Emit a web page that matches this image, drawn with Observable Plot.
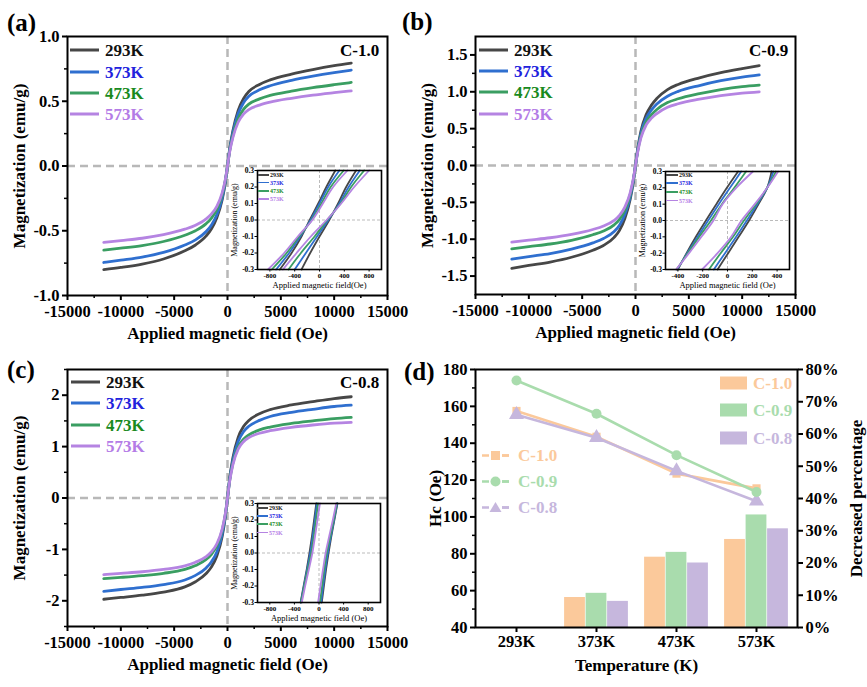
<!DOCTYPE html>
<html>
<head>
<meta charset="utf-8">
<script src="https://cdn.jsdelivr.net/npm/d3@7"></script>
<script src="https://cdn.jsdelivr.net/npm/@observablehq/plot@0.6"></script>
<style>
  body { margin: 0; background: #fff; }
  #fig { position: relative; width: 867px; height: 687px; background: #fff; overflow: hidden;
         font-family: "Liberation Serif", "DejaVu Serif", "Noto Serif", serif; }
  #fig svg { position: absolute; overflow: visible; }
  .lbl { position: absolute; font-weight: bold; white-space: nowrap; line-height: 1; }
  .leg { position: absolute; display: flex; align-items: center; transform: translateY(-50%);
         font-weight: bold; white-space: nowrap; line-height: 1; }
</style>
</head>
<body>
<div id="fig"></div>
<script>
// ---------------- data ----------------
const temps = ["293K", "373K", "473K", "573K"];
const fieldOe = [-11600, -10000, -8000, -6000, -4000, -3000, -2000, -1500, -1000, -500, -200, 0,
                 200, 500, 1000, 1500, 2000, 3000, 4000, 6000, 8000, 10000, 11600];

// panel (a) C-1.0 magnetization (emu/g) at fieldOe
const mA293 = [-0.80, -0.783, -0.757, -0.718, -0.655, -0.61, -0.54, -0.485, -0.40, -0.26, -0.125, 0,
               0.13, 0.27, 0.43, 0.52, 0.575, 0.63, 0.665, 0.71, 0.745, 0.775, 0.795];
const mA373 = [-0.745, -0.727, -0.703, -0.667, -0.610, -0.570, -0.506, -0.455, -0.377, -0.246, -0.118, 0,
               0.123, 0.255, 0.405, 0.488, 0.538, 0.588, 0.620, 0.662, 0.694, 0.721, 0.74];
const mA473 = [-0.65, -0.635, -0.614, -0.583, -0.535, -0.50, -0.445, -0.402, -0.336, -0.222, -0.108, 0,
               0.113, 0.232, 0.365, 0.437, 0.478, 0.518, 0.545, 0.578, 0.605, 0.628, 0.645];
const mA573 = [-0.59, -0.576, -0.558, -0.530, -0.488, -0.457, -0.408, -0.370, -0.312, -0.208, -0.102, 0,
               0.107, 0.218, 0.338, 0.400, 0.436, 0.470, 0.493, 0.523, 0.547, 0.566, 0.58];
// panel (b) C-0.9
const mB293 = [-1.395, -1.355, -1.31, -1.245, -1.15, -1.085, -0.975, -0.88, -0.72, -0.46, -0.22, 0,
               0.22, 0.46, 0.69, 0.82, 0.91, 1.03, 1.10, 1.19, 1.26, 1.315, 1.355];
const mB373 = [-1.27, -1.235, -1.195, -1.135, -1.05, -0.99, -0.895, -0.81, -0.665, -0.43, -0.205, 0,
               0.205, 0.43, 0.64, 0.755, 0.835, 0.94, 1.005, 1.085, 1.15, 1.20, 1.23];
const mB473 = [-1.13, -1.10, -1.065, -1.015, -0.94, -0.888, -0.805, -0.73, -0.605, -0.395, -0.19, 0,
               0.19, 0.395, 0.59, 0.69, 0.76, 0.853, 0.905, 0.975, 1.03, 1.07, 1.09];
const mB573 = [-1.04, -1.013, -0.98, -0.935, -0.868, -0.82, -0.745, -0.678, -0.565, -0.37, -0.178, 0,
               0.178, 0.37, 0.55, 0.643, 0.705, 0.79, 0.838, 0.90, 0.948, 0.982, 1.00];
// panel (c) C-0.8
const mC293 = [-1.97, -1.935, -1.89, -1.83, -1.73, -1.63, -1.47, -1.34, -1.13, -0.75, -0.36, 0,
               0.38, 0.78, 1.18, 1.39, 1.51, 1.64, 1.72, 1.81, 1.875, 1.935, 1.97];
const mC373 = [-1.815, -1.78, -1.74, -1.685, -1.595, -1.505, -1.36, -1.24, -1.05, -0.70, -0.34, 0,
               0.355, 0.73, 1.10, 1.29, 1.395, 1.51, 1.585, 1.665, 1.725, 1.78, 1.805];
const mC473 = [-1.57, -1.545, -1.51, -1.465, -1.39, -1.315, -1.195, -1.095, -0.93, -0.63, -0.31, 0,
               0.33, 0.67, 0.99, 1.145, 1.23, 1.325, 1.38, 1.45, 1.50, 1.545, 1.57];
const mC573 = [-1.49, -1.466, -1.435, -1.39, -1.32, -1.25, -1.14, -1.045, -0.89, -0.605, -0.30, 0,
               0.32, 0.645, 0.95, 1.095, 1.175, 1.26, 1.31, 1.375, 1.42, 1.455, 1.47];

// insets: field (Oe) of each loop branch at these magnetization levels
const loopM = [-0.3, -0.2, -0.1, 0, 0.1, 0.2, 0.3];
const aDesc293 = [-640, -450, -290, -158, -20, 110, 255];
const aAsc293  = [-290, -150, 0, 158, 300, 430, 590];
const aDesc373 = [-700, -490, -310, -143, 0, 140, 320];
const aAsc373  = [-400, -220, -40, 143, 320, 470, 650];
const aDesc473 = [-770, -530, -330, -124, 30, 180, 390];
const aAsc473  = [-500, -300, -80, 124, 340, 510, 720];
const aDesc573 = [-830, -570, -350, -115, 55, 220, 450];
const aAsc573  = [-590, -370, -140, 115, 350, 560, 800];

const bDesc293 = [-400, -330, -255, -174, -90, -5, 85];
const bAsc293  = [-80, 5, 90, 174, 250, 320, 355];
const bDesc373 = [-405, -325, -240, -156, -70, 20, 110];
const bAsc373  = [-110, -20, 70, 156, 240, 320, 370];
const bDesc473 = [-410, -320, -228, -133, -45, 55, 150];
const bAsc473  = [-150, -55, 45, 133, 230, 320, 390];
const bDesc573 = [-415, -310, -210, -113, -40, 70, 205];
const bAsc573  = [-205, -80, 30, 113, 220, 320, 408];

const cDesc293 = [-300, -250, -200, -155, -115, -80, -45];
const cAsc293  = [45, 80, 115, 155, 200, 250, 300];
const cDesc373 = [-295, -245, -193, -143, -103, -68, -35];
const cAsc373  = [35, 68, 103, 143, 193, 245, 295];
const cDesc473 = [-290, -238, -182, -125, -85, -50, -15];
const cAsc473  = [15, 50, 85, 125, 182, 238, 290];
const cDesc573 = [-280, -225, -165, -108, -65, -25, 15];
const cAsc573  = [-15, 25, 65, 108, 165, 225, 280];

// panel (d)
const samples = ["C-1.0", "C-0.9", "C-0.8"];
const hcC10 = [157.5, 143.5, 123.5, 115.5];
const hcC09 = [174, 156, 133.5, 113.5];
const hcC08 = [155.5, 143, 125, 108.5];
const decC10 = [0, 9.3, 21.8, 27.3];
const decC09 = [0, 10.6, 23.3, 34.9];
const decC08 = [0, 8.1, 20.0, 30.6];
const hcTicks = [40, 60, 80, 100, 120, 140, 160, 180];
const pctTicks = [0, 10, 20, 30, 40, 50, 60, 70, 80];

// ---------------- styles ----------------
const lineColors = ["#474747", "#2f6fcf", "#3a9e62", "#b584e2"];
const textColors = ["#111111", "#2222dd", "#198a1e", "#b47ce6"];
const dColors = ["#fbc99b", "#a9dcad", "#c6b7dd"];
const FONT = "'Liberation Serif', 'DejaVu Serif', 'Noto Serif', serif";
const TICK = 16.5, TITLE = 17;
const fig = document.getElementById("fig");

function place(svg, left, top) {
  svg.style.left = left + "px";
  svg.style.top = top + "px";
  fig.appendChild(svg);
}
function label(text, left, top, size, extra = {}) {
  const d = document.createElement("div");
  d.className = "lbl";
  d.textContent = text;
  d.style.left = left + "px";
  d.style.top = top + "px";
  d.style.fontSize = size + "px";
  Object.assign(d.style, extra);
  fig.appendChild(d);
}
function lineLegend(x, y, len, lw, color, tcolor, text, size, gap) {
  const d = document.createElement("div");
  d.className = "leg";
  d.style.left = x + "px";
  d.style.top = y + "px";
  d.style.fontSize = size + "px";
  d.style.color = tcolor;
  const s = document.createElement("span");
  s.style.cssText = `display:inline-block;width:${len}px;height:${lw}px;background:${color};margin-right:${gap}px`;
  d.appendChild(s);
  d.appendChild(document.createTextNode(text));
  fig.appendChild(d);
}

function range(a, b, step) { const r = []; for (let v = a; v <= b + 1e-9; v += step) r.push(+v.toFixed(4)); return r; }

function hystPanel({curves, yDomain, yMajor, yMinor, yFmt, width, height, ml, mr, mt, mb}) {
  const data = [];
  temps.forEach((t, k) => fieldOe.forEach((h, i) => data.push({T: t, H: h, M: curves[k][i]})));
  const xMajor = range(-15000, 15000, 5000);
  const xMinor = range(-12500, 12500, 5000);
  return Plot.plot({
    width, height, marginLeft: ml, marginRight: mr, marginTop: mt, marginBottom: mb,
    style: {fontFamily: FONT, background: "transparent", overflow: "visible", color: "black"},
    x: {domain: [-15000, 15000]},
    y: {domain: yDomain},
    color: {domain: temps, range: lineColors},
    marks: [
      Plot.ruleY([0], {stroke: "#b8b8b8", strokeWidth: 2.5, strokeDasharray: "8,5"}),
      Plot.ruleX([0], {stroke: "#b8b8b8", strokeWidth: 2.5, strokeDasharray: "8,5"}),
      Plot.line(data, {x: "H", y: "M", z: "T", stroke: "T", strokeWidth: 2.8, curve: "monotone-x"}),
      Plot.frame({stroke: "black", strokeWidth: 2}),
      Plot.axisX({ticks: xMajor, tickSize: 5, tickPadding: 5, strokeWidth: 2, label: null,
                  tickFormat: d => String(d), fontSize: TICK, fontWeight: "bold"}),
      Plot.axisX({ticks: xMinor, tickSize: 3, strokeWidth: 1.5, label: null, tickFormat: () => ""}),
      Plot.axisY({ticks: yMajor, tickSize: 5, tickPadding: 3, strokeWidth: 2, label: null,
                  tickFormat: yFmt, fontSize: TICK, fontWeight: "bold"}),
      Plot.axisY({ticks: yMinor, tickSize: 3, strokeWidth: 1.5, label: null, tickFormat: () => ""}),
      Plot.text(["Applied magnetic field (Oe)"], {frameAnchor: "bottom", dy: 43, fontSize: TITLE,
                  fontWeight: "bold", fill: "black", textAnchor: "middle"}),
      Plot.text(["Magnetization (emu/g)"], {frameAnchor: "left", rotate: -90, dx: -48, fontSize: TITLE,
                  fontWeight: "bold", fill: "black", textAnchor: "middle"})
    ]
  });
}

function insetPanel({desc, asc, xDomain, xTicks, width, height, ml, mr, mt, mb, xlab, dyLab}) {
  const data = [];
  temps.forEach((t, k) => {
    loopM.forEach((m, i) => data.push({T: t, B: t + "d", H: desc[k][i], M: m}));
    loopM.forEach((m, i) => data.push({T: t, B: t + "a", H: asc[k][i], M: m}));
  });
  return Plot.plot({
    width, height, marginLeft: ml, marginRight: mr, marginTop: mt, marginBottom: mb,
    style: {fontFamily: FONT, background: "transparent", overflow: "visible", color: "black"},
    x: {domain: xDomain},
    y: {domain: [-0.3, 0.3]},
    color: {domain: temps, range: lineColors},
    marks: [
      Plot.frame({fill: "white", stroke: "none"}),
      Plot.ruleY([0], {stroke: "#aaaaaa", strokeWidth: 0.8, strokeDasharray: "3,2"}),
      Plot.ruleX([0], {stroke: "#aaaaaa", strokeWidth: 0.8, strokeDasharray: "3,2"}),
      Plot.line(data, {x: "H", y: "M", z: "B", stroke: "T", strokeWidth: 1.8, curve: "monotone-y"}),
      Plot.frame({stroke: "black", strokeWidth: 1.6}),
      Plot.axisX({ticks: xTicks, tickSize: 2.5, tickPadding: 1, strokeWidth: 1, label: null,
                  tickFormat: d => String(d), fontSize: 7, fontWeight: "bold"}),
      Plot.axisY({ticks: [-0.3, -0.2, -0.1, 0, 0.1, 0.2, 0.3], tickSize: 2.5, tickPadding: 1, strokeWidth: 1,
                  label: null, tickFormat: d => d.toFixed(1), fontSize: 7.5, fontWeight: "bold"}),
      Plot.text([xlab], {frameAnchor: "bottom", dy: dyLab, fontSize: 8.5, fill: "black", textAnchor: "middle"}),
      Plot.text(["Magnetization (emu/g)"], {frameAnchor: "left", rotate: -90, dx: -23, fontSize: 8,
                  fill: "black", textAnchor: "middle"})
    ]
  });
}

// ---------------- panel (a) ----------------
place(hystPanel({curves: [mA293, mA373, mA473, mA573], yDomain: [-1, 1],
  yMajor: range(-1, 1, 0.5), yMinor: range(-0.75, 0.75, 0.5), yFmt: d => d.toFixed(1),
  width: 430, height: 345, ml: 67, mr: 43, mt: 36, mb: 50}), 0, 0);
// ---------------- panel (b) ----------------
place(hystPanel({curves: [mB293, mB373, mB473, mB573], yDomain: [-1.75, 1.75],
  yMajor: range(-1.5, 1.5, 0.5), yMinor: range(-1.25, 1.25, 0.5), yFmt: d => d.toFixed(1),
  width: 457, height: 345, ml: 65, mr: 72, mt: 36, mb: 51}), 410, 0);
// ---------------- panel (c) ----------------
place(hystPanel({curves: [mC293, mC373, mC473, mC573], yDomain: [-2.5, 2.5],
  yMajor: range(-2, 2, 1), yMinor: range(-2.5, 2.5, 1), yFmt: d => String(d),
  width: 430, height: 357, ml: 67, mr: 43, mt: 39, mb: 61}), 0, 330);

// ---------------- insets ----------------
place(insetPanel({desc: [aDesc293, aDesc373, aDesc473, aDesc573], asc: [aAsc293, aAsc373, aAsc473, aAsc573],
  xDomain: [-1000, 1000], xTicks: [-800, -400, 0, 400, 800], width: 160, height: 132,
  ml: 28, mr: 8, mt: 10, mb: 23, xlab: "Applied magnetic field(Oe)", dyLab: 18.5}), 229, 160);
place(insetPanel({desc: [bDesc293, bDesc373, bDesc473, bDesc573], asc: [bAsc293, bAsc373, bAsc473, bAsc573],
  xDomain: [-500, 500], xTicks: [-400, -200, 0, 200, 400], width: 160, height: 132,
  ml: 28, mr: 8, mt: 10, mb: 24, xlab: "Applied magnetic field (Oe)", dyLab: 18.5}), 637, 161);
place(insetPanel({desc: [cDesc293, cDesc373, cDesc473, cDesc573], asc: [cAsc293, cAsc373, cAsc473, cAsc573],
  xDomain: [-1000, 1000], xTicks: [-800, -400, 0, 400, 800], width: 160, height: 132,
  ml: 28, mr: 9, mt: 10, mb: 23, xlab: "Applied magnetic field (Oe)", dyLab: 18.5}), 229, 493);

// ---------------- panel (d) ----------------
{
  const hcSeries = [hcC10, hcC09, hcC08];
  const decSeries = [decC10, decC09, decC08];
  const symbols = ["square", "circle", "triangle"];
  const radii = [4.6, 5, 5.6];
  const offs = [-21.5, 0, 21.5];
  const marks = [];
  samples.forEach((s, k) => {
    const rows = temps.map((t, i) => ({T: t, pct: decSeries[k][i]}));
    marks.push(Plot.rectY(rows, {x: "T", y1: 40, y2: d => 40 + d.pct * 140 / 80, fill: dColors[k],
      dx: offs[k], insetLeft: 29.6, insetRight: 29.6}));
  });
  [0, 2, 1].forEach(k => {
    const rows = temps.map((t, i) => ({T: t, Hc: hcSeries[k][i]}));
    marks.push(Plot.line(rows, {x: "T", y: "Hc", stroke: dColors[k], strokeWidth: 2.6}));
    marks.push(Plot.dot(rows, {x: "T", y: "Hc", symbol: symbols[k], r: radii[k], fill: dColors[k], stroke: "none"}));
  });
  marks.push(
    Plot.frame({stroke: "black", strokeWidth: 2}),
    Plot.axisX({tickSize: 5, tickPadding: 3, strokeWidth: 2, label: null, fontSize: TICK, fontWeight: "bold"}),
    Plot.axisY({ticks: hcTicks, tickSize: 5, tickPadding: 3, strokeWidth: 2, label: null, fontSize: TICK,
                fontWeight: "bold", tickFormat: d => String(d)}),
    Plot.axisY({ticks: range(50, 170, 20), tickSize: 3, strokeWidth: 1.5, label: null, tickFormat: () => ""}),
    Plot.axisY({anchor: "right", ticks: pctTicks.map(p => 40 + p * 140 / 80), tickSize: 5, tickPadding: 3,
                strokeWidth: 2, label: null, fontSize: TICK, fontWeight: "bold",
                tickFormat: v => Math.round((v - 40) * 80 / 140) + "%"}),
    Plot.text(["Temperature (K)"], {frameAnchor: "bottom", dy: 43, fontSize: TITLE, fontWeight: "bold",
                fill: "black", textAnchor: "middle"}),
    Plot.text(["Hc (Oe)"], {frameAnchor: "left", rotate: -90, dx: -40, fontSize: TITLE, fontWeight: "bold",
                fill: "black", textAnchor: "middle"}),
    Plot.text(["Decreased percentage"], {frameAnchor: "right", rotate: -90, dx: 59, fontSize: TITLE,
                fontWeight: "bold", fill: "black", textAnchor: "middle"})
  );
  place(Plot.plot({
    width: 457, height: 357, marginLeft: 65, marginRight: 70, marginTop: 39, marginBottom: 60,
    style: {fontFamily: FONT, background: "transparent", overflow: "visible", color: "black"},
    x: {type: "band", domain: temps, padding: 0},
    y: {domain: [40, 180]},
    marks
  }), 410, 330);
}

// ---------------- labels & legends ----------------
label("(a)", 7, 10, 25);
label("(b)", 402, 9, 25);
label("(c)", 7, 357, 25);
label("(d)", 404, 359, 25);
label("C-1.0", 340, 42, 17);
label("C-0.9", 749, 42, 17);
label("C-0.8", 340, 374, 17);

const mainLegY = {a: [50, 71.5, 92.5, 113.5], b: [50, 71, 92, 113.5], c: [382, 403, 424.5, 446]};
temps.forEach((t, k) => {
  lineLegend(70, mainLegY.a[k], 29, 3, lineColors[k], textColors[k], t, 17, 6);
  lineLegend(479, mainLegY.b[k], 29, 3, lineColors[k], textColors[k], t, 17, 6);
  lineLegend(71, mainLegY.c[k], 29, 3, lineColors[k], textColors[k], t, 17, 6);
});
const insetLegY = {a: [175, 182.5, 191, 199], b: [175, 183, 192, 200.5], c: [508, 516, 524, 532.5]};
temps.forEach((t, k) => {
  lineLegend(258, insetLegY.a[k], 11, 1.6, lineColors[k], textColors[k], t, 6, 1);
  lineLegend(666, insetLegY.b[k], 12, 1.6, lineColors[k], textColors[k], t, 6, 1);
  lineLegend(257, insetLegY.c[k], 11, 1.6, lineColors[k], textColors[k], t, 6, 1);
});

// (d) legends
{
  const ys = [455, 481, 507];
  const shapes = [
    c => `<rect x="9" y="3.5" width="9" height="9" fill="${c}"/>`,
    c => `<circle cx="13.5" cy="8" r="5" fill="${c}"/>`,
    c => `<path d="M13.5,2.5 L19.5,12.5 L7.5,12.5 Z" fill="${c}"/>`
  ];
  samples.forEach((s, k) => {
    const d = document.createElement("div");
    d.className = "leg";
    d.style.left = "482px"; d.style.top = ys[k] + "px";
    d.style.fontSize = "17px"; d.style.color = dColors[k];
    d.innerHTML = `<svg width="28" height="16" style="position:static;margin-right:8px"><line x1="0" y1="8" x2="27" y2="8" stroke="${dColors[k]}" stroke-width="2.6" stroke-dasharray="7,13"/>${shapes[k](dColors[k])}<line x1="20" y1="8" x2="27" y2="8" stroke="${dColors[k]}" stroke-width="2.6"/></svg>${s}`;
    fig.appendChild(d);
  });
  const ys2 = [382.5, 410, 437.5];
  samples.forEach((s, k) => {
    const d = document.createElement("div");
    d.className = "leg";
    d.style.left = "720px"; d.style.top = ys2[k] + "px";
    d.style.fontSize = "17px"; d.style.color = dColors[k];
    d.innerHTML = `<span style="display:inline-block;width:27px;height:13px;background:${dColors[k]};margin-right:6px"></span>${s}`;
    fig.appendChild(d);
  });
}
</script>
</body>
</html>
